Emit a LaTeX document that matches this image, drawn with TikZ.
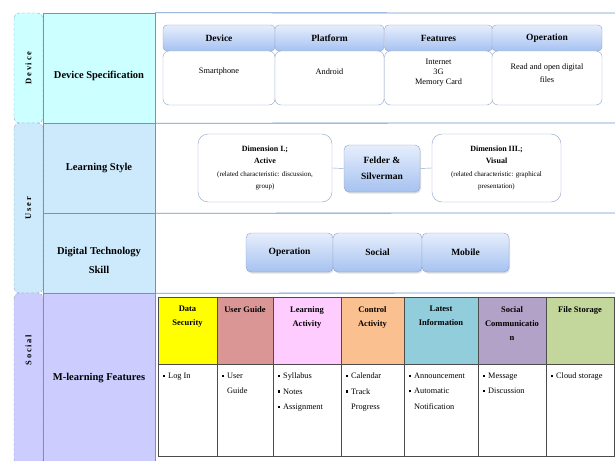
\documentclass[tikz,border=0pt]{standalone}
\usepackage{fontspec}
\setmainfont{Liberation Serif}
\newfontfamily\bandfont[LetterSpace=20]{Liberation Serif}
\usetikzlibrary{shadows}
\definecolor{devfill}{HTML}{CCFFFF}
\definecolor{userfill}{HTML}{CCEAFB}
\definecolor{socfill}{HTML}{CCCCFF}
\definecolor{rowline}{HTML}{6F93C9}
\definecolor{bandline}{HTML}{93AACB}
\definecolor{cellline}{HTML}{8DA3C7}
\definecolor{hdrtop}{HTML}{E6EEFD}
\definecolor{hdrbot}{HTML}{A6C2F0}
\definecolor{colsec}{HTML}{FFFF00}
\definecolor{colguide}{HTML}{D99694}
\definecolor{collearn}{HTML}{FFCCFF}
\definecolor{colctrl}{HTML}{FAC090}
\definecolor{colinfo}{HTML}{92CDDC}
\definecolor{colcomm}{HTML}{B3A2C7}
\definecolor{colstore}{HTML}{C3D69B}
\newcommand\bul{\rule[0.45ex]{2.2pt}{2.2pt}\hspace{3pt}}
\tikzset{
  band/.style={draw=bandline, densely dashed, rounded corners=5pt, rotate=90, inner sep=0pt},
  bandtext/.style={rotate=90, font=\bandfont\bfseries\fontsize{8.5}{10}\selectfont},
  rowhead/.style={draw=rowline, minimum width=112pt, inner sep=0pt},
  rowtext/.style={font=\bfseries\fontsize{10.5}{19}\selectfont, align=center},
  hdr/.style={draw=cellline, rounded corners=4pt, top color=hdrtop, bottom color=hdrbot,
    font=\bfseries\fontsize{9.5}{12}\selectfont, inner sep=0pt, minimum height=26pt},
  cell/.style={draw=cellline, fill=white, rounded corners=6pt, minimum height=54pt, inner sep=0pt},
  celltext/.style={font=\fontsize{8.3}{10}\selectfont, align=center},
  dimbox/.style={draw=cellline, fill=white, rounded corners=10pt, minimum height=68pt,
    align=center, font=\fontsize{7}{12.3}\selectfont, inner sep=0pt},
  skillbox/.style={hdr, rounded corners=5pt, drop shadow={shadow xshift=1pt, shadow yshift=-1.5pt, opacity=0.25}},
  fhead/.style={draw=black!70, minimum height=67pt, inner sep=0pt},
  fbody/.style={draw=black!70, fill=white, minimum height=92pt, inner sep=0pt},
  ftext/.style={font=\bfseries\fontsize{8.5}{14}\selectfont, align=center, anchor=north},
  btext/.style={font=\fontsize{8.3}{15.5}\selectfont, align=left, anchor=north west, inner sep=0pt}
}
\begin{document}
\begin{tikzpicture}[x=1pt,y=-1pt]
\useasboundingbox (0,0) rectangle (615,460);
% Left bands
\node[band, fill=devfill, minimum width=110pt, minimum height=29pt] (devband) at (28.5,68) {};
\node[band, fill=userfill, minimum width=170pt, minimum height=29pt] (userband) at (28.5,208) {};
\node[band, fill=socfill, minimum width=172pt, minimum height=29pt] (socband) at (28.5,379) {};
\node[bandtext] at (devband.center) {Device};
\node[bandtext] at (userband.center) {User};
\node[bandtext] at ([yshift=29pt]socband.center) {Social};
% Row heads
\node[rowhead, fill=devfill, minimum height=110pt] (devspec) at (99,68) {};
\node[rowhead, fill=userfill, minimum height=90pt] (lstyle) at (99,168) {};
\node[rowhead, fill=userfill, minimum height=80pt] (dskill) at (99,253) {};
\node[rowhead, fill=socfill, minimum height=170pt] (mfeat) at (99,378) {};
\node[rowtext] at ([yshift=-8pt]devspec.center) {Device Specification};
\node[rowtext] at (lstyle.center) {Learning Style};
\node[rowtext] at ([yshift=-7pt]dskill.center) {Digital Technology\\Skill};
\node[rowtext] at (mfeat.center) {M-learning Features};
% Row separators
\draw[rowline, thick] (devspec.north east) -- (615,13);
\draw[rowline, thick] (devspec.south east) -- (615,123);
\draw[rowline, thick] (lstyle.south east) -- (615,213);
\draw[rowline, thick] (dskill.south east) -- (615,293);
\draw[rowline, thick] (devspec.north east) -- (mfeat.south east);
% Device specification
\node[hdr, minimum width=112pt] (dh1) at (219,38) {Device};
\node[hdr, minimum width=109pt] (dh2) at (329.5,38) {Platform};
\node[hdr, minimum width=108pt] (dh3) at (438.5,38) {Features};
\node[hdr, minimum width=110pt] (dh4) at (547,38) {Operation};
\node[cell, minimum width=112pt] (dc1) at (219,78) {};
\node[cell, minimum width=109pt] (dc2) at (329.5,78) {};
\node[cell, minimum width=108pt] (dc3) at (438.5,78) {};
\node[cell, minimum width=110pt] (dc4) at (547,78) {};
\node[celltext] at ([yshift=6pt]dc1.center) {Smartphone};
\node[celltext] at ([yshift=6pt]dc2.center) {Android};
\node[celltext] at ([yshift=5.5pt]dc3.center) {Internet\\3G\\Memory Card};
\node[celltext, font=\fontsize{8.3}{13}\selectfont] at ([yshift=5pt]dc4.center) {Read and open digital\\files};
% Learning style
\node[dimbox, minimum width=134pt] (dim1) at (265,168)
  {{\bfseries\fontsize{8}{12.3}\selectfont Dimension I.;}\\{\bfseries\fontsize{8}{12.3}\selectfont Active}\\(related characteristic: discussion,\\group)};
\node[skillbox, minimum width=76pt, minimum height=47pt, align=center,
  font=\bfseries\fontsize{9.5}{16}\selectfont] (felder) at (382,168.5) {Felder \&\\Silverman};
\node[dimbox, minimum width=129pt] (dim3) at (496.5,168)
  {{\bfseries\fontsize{8}{12.3}\selectfont Dimension III.;}\\{\bfseries\fontsize{8}{12.3}\selectfont Visual}\\(related characteristic: graphical\\presentation)};
\draw[cellline] (dim1.east) -- (felder.west);
\draw[cellline] (felder.east) -- (dim3.west);
% Digital technology skill
\node[skillbox, minimum width=87pt, minimum height=39pt] (sk1) at (289.5,252.5) {Operation};
\node[skillbox, minimum width=89pt, minimum height=39pt] (sk2) at (377.5,252.5) {Social};
\node[skillbox, minimum width=87pt, minimum height=39pt] (sk3) at (465.5,252.5) {Mobile};
% M-learning features
\node[fhead, fill=colsec, minimum width=59pt] (th1) at (187.5,330.5) {};
\node[fhead, fill=colguide, minimum width=56pt] (th2) at (245,330.5) {};
\node[fhead, fill=collearn, minimum width=68pt] (th3) at (307,330.5) {};
\node[fhead, fill=colctrl, minimum width=63pt] (th4) at (372.5,330.5) {};
\node[fhead, fill=colinfo, minimum width=74pt] (th5) at (441,330.5) {};
\node[fhead, fill=colcomm, minimum width=68pt] (th6) at (512,330.5) {};
\node[fhead, fill=colstore, minimum width=68pt] (th7) at (580,330.5) {};
\node[ftext] at ([yshift=-6pt]th1.north) {Data\\Security};
\node[ftext] at ([yshift=-6pt]th2.north) {User Guide};
\node[ftext] at ([yshift=-6pt]th3.north) {Learning\\Activity};
\node[ftext] at ([yshift=-6pt]th4.north) {Control\\Activity};
\node[ftext] at ([yshift=-6pt]th5.north) {Latest\\Information};
\node[ftext] at ([yshift=-6pt]th6.north) {Social\\Communicatio\\n};
\node[ftext] at ([yshift=-6pt]th7.north) {File Storage};
\node[fbody, minimum width=59pt] (tb1) at (187.5,410) {};
\node[fbody, minimum width=56pt] (tb2) at (245,410) {};
\node[fbody, minimum width=68pt] (tb3) at (307,410) {};
\node[fbody, minimum width=63pt] (tb4) at (372.5,410) {};
\node[fbody, minimum width=74pt] (tb5) at (441,410) {};
\node[fbody, minimum width=68pt] (tb6) at (512,410) {};
\node[fbody, minimum width=68pt] (tb7) at (580,410) {};
\node[btext] at ([xshift=5pt,yshift=-9pt]tb1.north west) {\bul Log In};
\node[btext] at ([xshift=5pt,yshift=-9pt]tb2.north west) {\bul User\\\hphantom{\bul}Guide};
\node[btext] at ([xshift=5pt,yshift=-9pt]tb3.north west) {\bul Syllabus\\\bul Notes\\\bul Assignment};
\node[btext] at ([xshift=5pt,yshift=-9pt]tb4.north west) {\bul Calendar\\\bul Track\\\hphantom{\bul}Progress};
\node[btext] at ([xshift=5pt,yshift=-9pt]tb5.north west) {\bul Announcement\\\bul Automatic\\\hphantom{\bul}Notification};
\node[btext] at ([xshift=5pt,yshift=-9pt]tb6.north west) {\bul Message\\\bul Discussion};
\node[btext] at ([xshift=5pt,yshift=-9pt]tb7.north west) {\bul Cloud storage};
\end{tikzpicture}
\end{document}
